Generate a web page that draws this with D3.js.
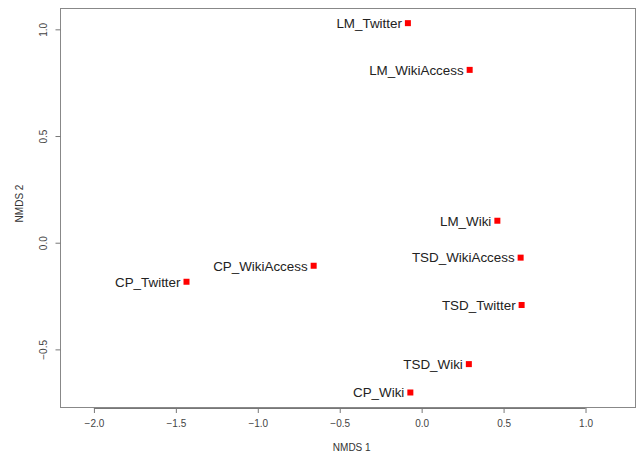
<!DOCTYPE html>
<html>
<head>
<meta charset="utf-8">
<script src="https://cdn.jsdelivr.net/npm/d3@7"></script>
<style>
  body { margin: 0; background: #fff; }
  svg { display: block; font-family: "Liberation Sans", Arial, sans-serif; }
  .tick text { fill: #444; font-size: 10px; }
  .tick line, .domain { stroke: #777; }
  .pointLabel { fill: #222; font-size: 13.4px; }
  .axisTitle { fill: #333; font-size: 10px; }
</style>
</head>
<body>
<div id="nmds"></div>
<script>
// sites in NMDS space
const labels = ["LM_Twitter", "LM_WikiAccess", "LM_Wiki", "TSD_WikiAccess", "TSD_Twitter",
                "TSD_Wiki", "CP_Wiki", "CP_WikiAccess", "CP_Twitter"];
const nmds1 = [-0.084, 0.293, 0.462, 0.604, 0.610, 0.288, -0.069, -0.659, -1.435];
const nmds2 = [1.029, 0.810, 0.103, -0.070, -0.292, -0.569, -0.702, -0.108, -0.183];
const xTicks = [-2.0, -1.5, -1.0, -0.5, 0.0, 0.5, 1.0];
const yTicks = [-0.5, 0.0, 0.5, 1.0];

let margin = {top: 8, right: 0.5, bottom: 48, left: 60},
    width = 636 - margin.left - margin.right,
    height = 455 - margin.top - margin.bottom;

let svg = d3.select("#nmds")
    .append("svg")
    .attr("width", 636)
    .attr("height", 455)
    .append("g")
    .attr("transform", `translate(${margin.left}, ${margin.top})`);

let x = d3.scaleLinear()
    .domain([-2.207, 1.305])
    .range([0, width]);
let y = d3.scaleLinear()
    .domain([-0.770, 1.100])
    .range([height, 0]);

// plot box
svg.append("rect")
    .attr("x", 0.5)
    .attr("y", 0.5)
    .attr("width", width - 0.5)
    .attr("height", height)
    .style("fill", "none")
    .style("stroke", "#888");

// x axis (R style, line spans only the ticks)
let xAxis = svg.append("g")
    .attr("transform", `translate(0, ${height + 1})`)
    .call(d3.axisBottom(x).tickValues(xTicks).tickSize(5).tickPadding(7)
        .tickSizeOuter(0).tickFormat(d3.format(".1f")));
xAxis.select(".domain").remove();
xAxis.append("line")
    .attr("x1", x(xTicks[0])).attr("x2", x(xTicks[xTicks.length - 1]))
    .attr("y1", 0.5).attr("y2", 0.5)
    .style("stroke", "#777");

// y axis with rotated labels
let yAxis = svg.append("g")
    .attr("transform", "translate(0.5, 0)")
    .call(d3.axisLeft(y).tickValues(yTicks).tickSize(5).tickSizeOuter(0)
        .tickFormat(d3.format(".1f")));
yAxis.select(".domain").remove();
yAxis.selectAll(".tick text")
    .attr("x", 0)
    .attr("dy", 0)
    .attr("text-anchor", "middle")
    .attr("transform", "translate(-14, 0) rotate(-90)");

// axis titles
svg.append("text")
    .attr("class", "axisTitle")
    .attr("text-anchor", "middle")
    .attr("x", width / 2 + 4)
    .attr("y", height + 44)
    .text("NMDS 1");
svg.append("text")
    .attr("class", "axisTitle")
    .attr("text-anchor", "middle")
    .attr("transform", `translate(-37, ${height / 2 - 4}) rotate(-90)`)
    .text("NMDS 2");

let idx = d3.range(labels.length);

// points
svg.selectAll(".site")
    .data(idx)
    .join("rect")
    .attr("class", "site")
    .attr("x", i => x(nmds1[i]) - 3)
    .attr("y", i => y(nmds2[i]) - 3)
    .attr("width", 6)
    .attr("height", 6)
    .style("fill", "#ff0000");

// labels
svg.selectAll(".pointLabel")
    .data(idx)
    .join("text")
    .attr("class", "pointLabel")
    .attr("text-anchor", "end")
    .attr("x", i => x(nmds1[i]) - 6)
    .attr("y", i => y(nmds2[i]))
    .attr("dy", "0.36em")
    .text(i => labels[i]);
</script>
</body>
</html>
